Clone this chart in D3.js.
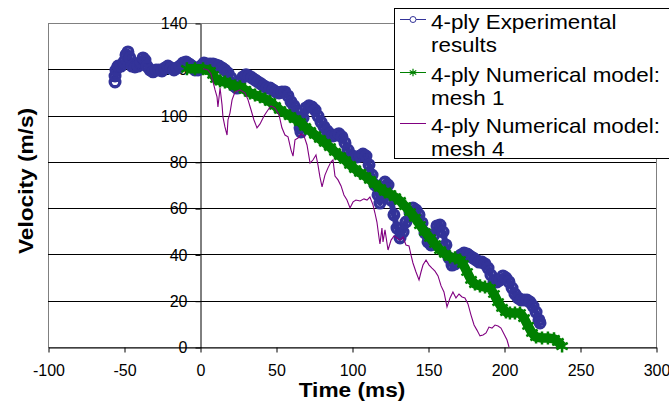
<!DOCTYPE html>
<html>
<head>
<meta charset="utf-8">
<script src="https://cdn.jsdelivr.net/npm/d3@7"></script>
<style>
  body { margin: 0; background: #fff; }
  svg { display: block; font-family: "Liberation Sans", Arial, sans-serif; }
</style>
</head>
<body>
<div id="app"></div>
<script>
// data

var xTicks = [-100, -50, 0, 50, 100, 150, 200, 250, 300]
var yTicks = [0, 20, 40, 60, 80, 100, 120, 140]

var seriesNames = ['4-ply Experimental|results', '4-ply Numerical model:|mesh 1', '4-ply Numerical model:|mesh 4']

// 4-ply experimental results
var expTime = [-55.9, -55.9, -55.3, -53.9, -52.0, -50.0, -48.7, -47.4, -46.1, -44.7, -42.8, -40.8, -38.8, -37.5, -36.2, -34.9,
  -32.9, -30.9, -28.9, -27.0, -25.0, -23.0, -21.1, -19.1, -17.1, -15.1, -13.2, -11.2, -9.2, -7.2, -5.3, -3.3, -1.3,
  0.7, 2.6, 4.6, 6.6, 8.6, 10.5, 12.5, 14.5, 16.4, 18.4, 20.4, 22.4, 24.3, 26.3, 28.3, 30.3, 32.2, 34.2, 36.2, 38.2,
  40.1, 42.1, 44.1, 46.1, 48.0, 50.0, 52.0, 53.9, 55.9, 57.9, 59.9, 61.8, 63.8, 65.1, 65.8, 66.4, 67.8, 69.7, 71.7,
  73.7, 75.7, 77.6, 79.6, 81.6, 83.6, 85.5, 87.5, 89.5, 91.4, 93.4, 95.4, 97.4, 99.3, 101.3, 103.3, 105.3, 107.2,
  109.2, 111.2, 113.2, 115.1, 117.1, 118.4, 119.7, 121.7, 123.7, 125.7, 127.6, 129.6, 131.6, 133.6, 135.5, 138.2,
  140.1, 142.1, 144.1, 146.1, 148.0, 150.0, 152.0, 153.9, 155.9, 157.9, 159.9, 161.8, 163.8, 165.8, 167.8, 169.7,
  171.7, 173.7, 175.7, 177.6, 179.6, 181.6, 183.6, 185.5, 187.5, 189.5, 191.4, 193.4, 195.4, 197.4, 199.3, 201.3,
  203.3, 205.3, 207.2, 209.2, 211.2, 213.2, 215.1, 217.1, 219.1, 221.1, 223.0, 223.7]
var expVel = [114.5, 117.1, 119.7, 121.4, 121.4, 123.2, 126.2, 127.5, 124.9, 121.4, 121.0, 121.4, 123.2, 124.9, 124.0, 121.4,
  119.7, 118.9, 119.7, 119.7, 119.3, 120.6, 121.4, 120.6, 119.7, 120.6, 121.4, 122.7, 123.2, 122.3, 121.4, 119.7, 119.7,
  121.4, 122.7, 122.3, 122.3, 122.3, 121.9, 121.4, 120.6, 119.7, 118.4, 116.3, 112.8, 111.9, 114.5, 116.7, 117.6, 117.1, 116.3, 115.4, 114.5,
  113.7, 112.8, 111.9, 111.9, 111.1, 110.2, 109.8, 110.2, 110.2, 108.5, 105.9, 104.2, 101.6, 98.1, 94.7, 92.9, 99.0, 103.3, 104.2,
  103.7, 102.4, 99.8, 97.2, 95.1, 93.4, 92.1, 91.2, 91.6, 92.1, 90.8, 88.2, 85.1, 83.0, 82.1, 82.1, 82.5, 83.4,
  82.5, 78.7, 74.3, 70.0, 65.7, 62.2, 65.3, 71.3, 70.0, 63.5, 57.1, 51.4, 47.1, 49.7, 54.0, 57.9,
  60.1, 59.2, 57.1, 53.6, 49.3, 45.4, 44.1, 48.4, 52.3, 52.7, 49.7, 44.1, 38.5, 35.4, 35.9, 38.5,
  39.8, 40.6, 40.2, 39.3, 38.5, 37.6, 36.7, 36.7, 35.9, 34.1, 31.1, 28.1, 28.1, 29.0, 30.7, 29.8,
  28.1, 25.5, 22.9, 21.2, 20.3, 20.3, 20.3, 19.4, 17.7, 15.1, 11.7, 10.4]

// 4-ply numerical model, mesh 1
var mesh1Time = [-8.6, -3.3, 2.0, 6.6, 8.6, 10.5, 13.2, 16.4, 19.7, 23.0, 26.3, 29.6, 32.9, 36.2, 39.5, 42.8, 46.1, 49.3,
  52.6, 55.9, 59.2, 62.5, 65.8, 69.1, 72.4, 75.7, 78.9, 82.2, 85.5, 88.8, 92.1, 95.4, 98.7, 102.0, 105.3, 108.6, 111.8,
  115.1, 118.4, 121.7, 125.0, 128.3, 131.6, 134.9, 138.2, 141.4, 144.7, 148.0, 151.3, 154.6, 157.9, 161.2, 164.5, 167.8,
  171.1, 173.0, 175.7, 178.3, 180.9, 184.2, 187.5, 190.8, 193.4, 196.1, 198.7, 201.3, 203.9, 207.2, 210.5, 213.2, 215.8,
  218.4, 221.1, 225.0, 228.9, 232.9, 235.5, 238.2]
var mesh1Vel = [120.2, 120.2, 120.2, 119.3, 117.6, 115.8, 115.0, 114.5, 113.7, 112.8, 112.4, 111.1, 109.8, 108.9, 108.1, 107.2, 105.9, 104.2,
  102.4, 101.1, 99.8, 98.5, 97.2, 95.1, 93.4, 91.6, 89.9, 88.2, 86.4, 84.3, 82.5, 80.8, 78.7, 76.9, 75.2, 73.9, 72.2,
  70.4, 68.7, 67.0, 66.1, 64.8, 63.1, 60.9, 58.3, 55.8, 52.7, 49.7, 47.1, 44.5, 41.9, 40.2, 38.9, 38.5,
  37.6, 35.9, 32.4, 29.0, 27.2, 26.4, 25.9, 25.5, 22.9, 19.4, 16.9, 15.1, 14.7, 14.7, 14.7, 12.5, 9.1,
  6.1, 4.3, 3.9, 3.9, 3.5, 2.2, 0.4]

// 4-ply numerical model, mesh 4
var mesh4Time = [2.0, 5.3, 7.2, 8.6, 9.9, 11.2, 11.8, 13.2, 14.5, 15.1, 16.4, 17.8, 18.4, 19.7, 21.1, 23.0, 26.3, 29.6,
  31.6, 33.6, 35.5, 37.5, 39.5, 42.1, 44.7, 46.7, 49.3, 52.0, 53.9, 55.9, 57.9, 59.9, 61.2, 62.5, 64.5, 66.4, 68.4,
  70.4, 72.4, 74.3, 76.3, 77.6, 78.9, 80.3, 82.2, 84.2, 86.2, 87.5, 88.8, 90.8, 92.8, 94.7, 96.7, 98.7, 100.7, 102.6,
  105.3, 107.9, 109.9, 111.8, 113.8, 115.1, 116.4, 117.8, 118.4, 119.7, 120.4, 121.7, 123.7, 125.7, 127.6, 129.6, 131.6,
  133.6, 135.5, 137.5, 138.8, 140.1, 142.1, 144.1, 145.4, 146.7, 148.7, 150.7, 152.6, 154.6, 156.6, 158.6, 160.5, 162.5,
  164.5, 166.4, 168.4, 170.4, 172.4, 174.3, 176.3, 178.3, 180.3, 182.2, 184.2, 186.2, 188.2, 190.1, 192.1, 194.1, 196.1,
  198.0, 200.0, 202.0, 203.3]
var mesh4Vel = [120.2, 119.7, 118.0, 114.5, 111.1, 108.1, 103.7, 111.9, 104.6, 99.4, 95.1, 91.6, 98.1, 101.1, 106.8, 110.2, 111.1, 109.8,
  106.8, 102.4, 98.1, 94.7, 96.4, 99.8, 102.4, 104.2, 103.3, 100.3, 94.7, 91.6, 90.8, 85.1, 82.5, 89.5, 90.3, 92.1, 91.2,
  87.3, 79.5, 80.8, 83.0, 78.7, 73.5, 69.2, 74.3, 77.4, 80.0, 80.8, 73.9, 72.2, 69.6, 65.7, 63.5, 60.1, 62.7, 63.5,
  63.1, 64.0, 63.5, 64.8, 61.4, 57.9, 54.0, 47.1, 44.5, 51.4, 45.4, 50.6, 41.9, 46.2, 48.0, 47.1, 46.2,
  47.5, 44.1, 43.7, 39.8, 36.3, 32.4, 29.0, 32.4, 35.4, 37.6, 35.4, 34.1, 32.8, 30.7, 26.4, 23.8, 17.3,
  21.2, 23.8, 21.2, 22.9, 21.6, 21.2, 18.6, 13.8, 9.5, 7.3, 4.8, 5.2, 6.1, 8.6, 8.2, 9.5, 9.1,
  8.2, 5.6, 3.0, 0]

var expData = expTime.map((t, i) => ({ t: t, v: expVel[i] }))
var mesh1Data = mesh1Time.map((t, i) => ({ t: t, v: mesh1Vel[i] }))
var mesh4Data = mesh4Time.map((t, i) => ({ t: t, v: mesh4Vel[i] }))

var blue = '#333399', green = '#008000', purple = '#800080'

var width = 669, height = 403
var plot = { left: 48, right: 656, top: 23, bottom: 347 }

var x = d3.scaleLinear().domain([-100, 300]).range([plot.left, plot.right])
var y = d3.scaleLinear().domain([0, 140]).range([plot.bottom, plot.top])

var svg = d3.select('#app')
  .append('svg')
  .attr('width', width)
  .attr('height', height)

// plot frame + grid
svg.append('rect')
  .attr('x', plot.left + 0.5)
  .attr('y', plot.top + 0.5)
  .attr('width', plot.right - plot.left)
  .attr('height', plot.bottom - plot.top)
  .attr('fill', 'none')
  .attr('stroke', '#808080')

svg.append('g')
  .selectAll('line')
  .data(yTicks.filter(d => d > 0 && d < 140))
  .enter()
  .append('line')
  .attr('x1', plot.left)
  .attr('x2', plot.right)
  .attr('y1', d => Math.round(y(d)) + 0.5)
  .attr('y2', d => Math.round(y(d)) + 0.5)
  .attr('stroke', '#000')

// axes cross at zero
var yAxis = svg.append('g')
  .attr('transform', 'translate(' + (Math.round(x(0)) + 0.5) + ',0.5)')
  .call(d3.axisLeft(y).tickValues(yTicks).tickSize(5).tickSizeOuter(0).tickPadding(8).tickFormat(d => String(d)))
yAxis.selectAll('text').attr('font-size', 16).attr('font-family', '"Liberation Sans", Arial').attr('fill', '#000')

var xAxis = svg.append('g')
  .attr('transform', 'translate(0.5,' + (Math.round(y(0)) + 0.5) + ')')
  .call(d3.axisBottom(x).tickValues(xTicks).tickSize(5).tickSizeOuter(0).tickPadding(12).tickFormat(d => String(d)))
xAxis.selectAll('text').attr('font-size', 16).attr('font-family', '"Liberation Sans", Arial').attr('fill', '#000')

// axis titles
svg.append('text')
  .attr('transform', 'translate(352,397) scale(1.08,1)')
  .attr('text-anchor', 'middle')
  .attr('font-size', 21)
  .attr('font-weight', 'bold')
  .text('Time (ms)')

svg.append('text')
  .attr('transform', 'translate(33,181) rotate(-90) scale(1.08,1)')
  .attr('text-anchor', 'middle')
  .attr('font-size', 21)
  .attr('font-weight', 'bold')
  .text('Velocity (m/s)')

var line = d3.line().x(d => x(d.t)).y(d => y(d.v))

// experimental: line + open circles (dense, so they merge into a band)
svg.append('path')
  .datum(expData)
  .attr('d', line)
  .attr('fill', 'none')
  .attr('stroke', blue)
  .attr('stroke-width', 6)
  .attr('stroke-linejoin', 'round')

svg.append('g')
  .selectAll('circle')
  .data(expData)
  .enter()
  .append('circle')
  .attr('cx', d => x(d.t))
  .attr('cy', d => y(d.v))
  .attr('r', 4.8)
  .attr('fill', 'none')
  .attr('stroke', blue)
  .attr('stroke-width', 3.4)

// mesh 1: thick line + asterisks
svg.append('path')
  .datum(mesh1Data)
  .attr('d', line)
  .attr('fill', 'none')
  .attr('stroke', green)
  .attr('stroke-width', 9.5)
  .attr('stroke-linejoin', 'round')

var star = d3.symbol().type(d3.symbolAsterisk).size(120)
svg.append('g')
  .selectAll('path')
  .data(mesh1Data)
  .enter()
  .append('path')
  .attr('d', star)
  .attr('transform', d => 'translate(' + x(d.t) + ',' + y(d.v) + ')')
  .attr('fill', 'none')
  .attr('stroke', green)
  .attr('stroke-width', 2.5)

// mesh 4: thin line
svg.append('path')
  .datum(mesh4Data)
  .attr('d', line)
  .attr('fill', 'none')
  .attr('stroke', purple)
  .attr('stroke-width', 1.1)

// legend
var legend = svg.append('g')
legend.append('rect')
  .attr('x', 394.5)
  .attr('y', 8.5)
  .attr('width', 300)
  .attr('height', 150)
  .attr('fill', '#fff')
  .attr('stroke', '#000')

var legendY = [19, 72, 123]
var colors = [blue, green, purple]
seriesNames.forEach((name, i) => {
  var ly = legendY[i]
  legend.append('line')
    .attr('x1', 400).attr('x2', 426)
    .attr('y1', ly + 0.5).attr('y2', ly + 0.5)
    .attr('stroke', colors[i])
  if (i === 0) {
    legend.append('circle').attr('cx', 413).attr('cy', ly + 0.5).attr('r', 3)
      .attr('fill', '#fff').attr('stroke', blue)
  } else if (i === 1) {
    legend.append('path').attr('d', d3.symbol().type(d3.symbolAsterisk).size(40))
      .attr('transform', 'translate(413,' + (ly + 0.5) + ')')
      .attr('fill', 'none').attr('stroke', green).attr('stroke-width', 1.2)
  }
  name.split('|').forEach((part, j) => {
    legend.append('text')
      .attr('transform', 'translate(431,' + (ly + 10 + j * 23) + ') scale(1.12,1)')
      .attr('font-size', 20)
      .attr('fill', '#000')
      .text(part)
  })
})
</script>
</body>
</html>
